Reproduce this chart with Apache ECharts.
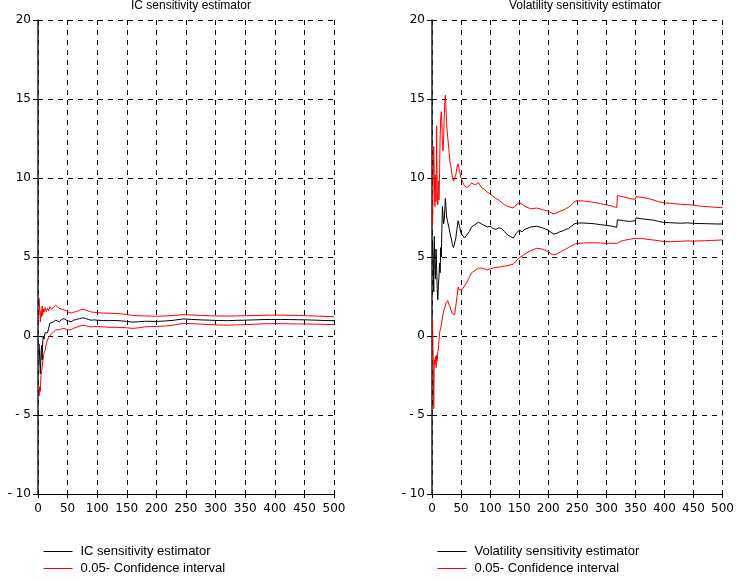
<!DOCTYPE html>
<html>
<head>
<meta charset="utf-8">
<script src="https://cdn.jsdelivr.net/npm/echarts@6/dist/echarts.min.js"></script>
<style>
html,body{margin:0;padding:0;background:#fff;}
#c{width:737px;height:581px;}
</style>
</head>
<body>
<div id="c"></div>
<script>
// ---- Left panel: IC sensitivity estimator ----
var xIC = [2,3,4,5,6,7,8,9,10,12,14,16,18,20,23,26,30,33,36,40,44,48,52,56,60,65,70,75,80,85,90,95,100,110,120,130,140,150,160,170,180,190,200,215,230,245,260,275,290,305,320,335,350,365,380,395,410,425,440,455,470,485,500];
var icEst = [-0.5,-1.6,-2.4,-1.2,-0.6,-1.5,-0.3,0.0,-0.2,0.2,0.3,0.2,0.5,0.8,0.7,0.9,1.0,0.95,0.9,1.05,1.1,1.0,0.95,0.9,1.0,1.05,1.1,1.15,1.12,1.05,1.0,1.02,1.0,0.98,0.97,0.98,0.96,0.92,0.88,0.9,0.93,0.93,0.92,0.95,1.0,1.08,1.05,1.02,1.0,0.98,0.97,0.99,1.0,1.02,1.04,1.05,1.05,1.04,1.03,1.02,1.0,0.98,0.97];
var icUpper = [2.4,1.5,0.9,1.6,1.2,1.9,1.3,1.7,1.5,1.8,1.55,1.75,1.6,1.85,1.7,1.8,1.95,1.85,1.75,1.7,1.65,1.6,1.5,1.45,1.5,1.55,1.62,1.7,1.65,1.58,1.52,1.5,1.48,1.45,1.44,1.43,1.4,1.36,1.3,1.28,1.27,1.26,1.25,1.27,1.3,1.35,1.33,1.3,1.28,1.27,1.26,1.27,1.28,1.3,1.31,1.32,1.32,1.31,1.3,1.28,1.26,1.24,1.22];
var icLower = [-3.8,-3.2,-3.5,-2.5,-2.2,-2.0,-1.6,-1.4,-1.1,-0.9,-0.5,-0.25,-0.1,0.0,0.15,0.25,0.38,0.35,0.4,0.45,0.48,0.42,0.38,0.4,0.48,0.55,0.62,0.68,0.66,0.6,0.58,0.6,0.6,0.58,0.55,0.55,0.54,0.52,0.48,0.52,0.58,0.6,0.6,0.63,0.7,0.8,0.78,0.75,0.72,0.7,0.69,0.7,0.72,0.74,0.77,0.78,0.78,0.77,0.76,0.76,0.75,0.73,0.72];

// ---- Right panel: Volatility sensitivity estimator ----
var xVol = [1,2,3,4,5,6,7,8,9,10,11,12,13,14,15,16,17,18,19,20,21,22,23,24,25,27,29,31,33,35,37,39,41,43,45,47,50,53,56,60,64,68,72,76,80,85,90,95,100,105,110,115,120,125,130,135,140,145,150,155,160,170,180,190,200,205,210,215,220,225,230,235,240,245,250,260,270,280,290,300,310,318,319,325,330,340,350,351,360,370,380,390,400,410,420,430,440,450,460,470,480,490,500];
var volEst = [6.0,5.0,2.8,6.3,4.5,3.6,5.5,4.2,3.0,2.3,3.2,3.8,4.6,4.0,5.6,5.0,6.8,8.2,7.6,7.1,7.3,8.0,8.7,8.2,7.6,7.2,6.9,6.5,6.2,5.8,5.6,5.7,6.2,6.8,7.3,7.0,6.5,6.4,6.2,6.4,6.6,6.9,7.0,7.1,7.2,7.1,7.0,6.9,6.95,6.8,6.75,6.85,6.8,6.6,6.4,6.3,6.2,6.5,6.7,6.6,6.75,6.9,6.95,6.85,6.7,6.55,6.45,6.5,6.6,6.65,6.75,6.8,6.95,7.1,7.15,7.15,7.13,7.1,7.05,7.0,6.95,6.88,7.35,7.33,7.3,7.25,7.3,7.48,7.42,7.38,7.34,7.25,7.18,7.17,7.15,7.14,7.16,7.13,7.12,7.11,7.1,7.09,7.09];
var volUpper = [7.0,9.5,12.0,10.0,8.2,10.2,8.5,13.3,9.0,8.3,9.8,8.6,10.3,12.6,13.8,14.2,13.5,12.0,11.7,12.5,13.8,14.8,15.25,14.5,13.5,12.6,11.8,11.0,10.6,10.0,9.8,9.7,10.2,10.7,10.9,10.5,10.0,9.7,9.5,9.4,9.5,9.7,9.6,9.6,9.7,9.4,9.3,9.1,9.0,8.85,8.7,8.6,8.45,8.3,8.2,8.15,8.1,8.3,8.45,8.35,8.2,8.05,8.1,8.0,7.9,7.8,7.72,7.8,7.9,7.95,8.05,8.15,8.3,8.5,8.55,8.55,8.5,8.45,8.38,8.3,8.22,8.12,8.88,8.85,8.8,8.7,8.65,8.82,8.78,8.72,8.62,8.5,8.42,8.4,8.36,8.33,8.32,8.28,8.22,8.2,8.17,8.14,8.12];
var volLower = [1.0,-1.5,-4.6,-1.5,-1.8,-1.3,-2.0,-1.2,-1.6,-1.0,-0.8,-0.7,0.2,0.1,0.5,0.7,0.8,1.2,1.4,1.5,1.7,1.6,1.9,2.1,2.05,2.25,2.0,1.85,1.6,1.4,1.3,1.35,1.9,2.5,3.1,2.9,2.9,3.0,3.1,3.4,3.7,4.0,4.1,4.2,4.3,4.3,4.25,4.18,4.25,4.3,4.35,4.35,4.4,4.42,4.45,4.5,4.55,4.75,4.95,5.05,5.2,5.4,5.55,5.5,5.35,5.2,5.13,5.2,5.3,5.4,5.5,5.6,5.7,5.8,5.86,5.88,5.9,5.9,5.88,5.87,5.87,5.85,5.95,6.0,6.05,6.12,6.18,6.2,6.18,6.12,6.08,6.03,5.98,5.97,5.98,6.0,6.02,6.0,6.02,6.03,6.05,6.06,6.08];

// ---- Axes ----
var xTicks = [0,50,100,150,200,250,300,350,400,450,500];
var yTicks = [-10,-5,0,5,10,15,20];

var titles = ['IC sensitivity estimator', 'Volatility sensitivity estimator'];
var estNames = ['IC sensitivity estimator', 'Volatility sensitivity estimator'];
var ciName = '0.05- Confidence interval';

function pairs(xs, ys){ var out=[]; for (var i=0;i<xs.length;i++) out.push([xs[i], ys[i]]); return out; }

var FONT = 'Liberation Sans';
function xAxisCfg(idx){
  return {
    gridIndex: idx, type: 'value', min: xTicks[0], max: xTicks[xTicks.length-1], interval: 50,
    axisLine: {show: true, onZero: false, lineStyle: {color: '#000', width: 1}},
    axisTick: {show: true, inside: false, length: 4, lineStyle: {color: '#000'}},
    axisLabel: {color: '#000', fontFamily: 'DejaVu Sans', fontSize: 12, margin: 9},
    splitLine: {show: true, lineStyle: {color: '#000', type: [5,5], width: 1}}
  };
}
function yAxisCfg(idx){
  return {
    gridIndex: idx, type: 'value', min: yTicks[0], max: yTicks[yTicks.length-1], interval: 5,
    axisLine: {show: true, onZero: false, lineStyle: {color: '#222', width: 1.5}},
    axisTick: {show: true, inside: false, length: 5, lineStyle: {color: '#000'}},
    axisLabel: {color: '#000', fontFamily: 'DejaVu Sans', fontSize: 12, margin: 7,
      formatter: function(v){ return v < 0 ? '- ' + Math.abs(v) : String(v); }},
    splitLine: {show: true, lineStyle: {color: '#000', type: [5,5], width: 1}}
  };
}
function lineSeries(name, idx, xs, ys, color){
  return {
    name: name, type: 'line', xAxisIndex: idx, yAxisIndex: idx,
    data: pairs(xs, ys), showSymbol: false, symbol: 'none',
    lineStyle: {color: color, width: 1}, itemStyle: {color: color},
    animation: false, silent: true
  };
}
function legendCfg(left, names){
  return {orient: 'vertical', left: left, top: 545, padding: 0,
    itemWidth: 29, itemHeight: 14, itemGap: 4,
    data: names, selectedMode: false,
    itemStyle: {opacity: 0},
    lineStyle: {width: 1},
    textStyle: {fontFamily: FONT, fontSize: 13, color: '#000', padding: [0,0,0,3]}};
}

var chart = echarts.init(document.getElementById('c'), null, {renderer: 'canvas'});
chart.setOption({
  backgroundColor: '#fff',
  animation: false,
  title: [
    {text: titles[0], left: 186, top: -5, textAlign: 'center',
     textStyle: {fontFamily: FONT, fontSize: 12, fontWeight: 'normal', color: '#000'}},
    {text: titles[1], left: 580, top: -5, textAlign: 'center',
     textStyle: {fontFamily: FONT, fontSize: 12, fontWeight: 'normal', color: '#000'}}
  ],
  grid: [
    {left: 38, right: 403, top: 20, bottom: 87},
    {left: 432, right: 10, top: 20, bottom: 87}
  ],
  xAxis: [xAxisCfg(0), xAxisCfg(1)],
  yAxis: [yAxisCfg(0), yAxisCfg(1)],
  legend: [legendCfg(43, [estNames[0], ciName]), legendCfg(437, [estNames[1], ciName])],
  series: [
    lineSeries(ciName, 0, xIC, icUpper, '#ff0000'),
    lineSeries(ciName, 0, xIC, icLower, '#ff0000'),
    lineSeries(estNames[0], 0, xIC, icEst, '#000000'),
    lineSeries(ciName, 1, xVol, volUpper, '#ff0000'),
    lineSeries(ciName, 1, xVol, volLower, '#ff0000'),
    lineSeries(estNames[1], 1, xVol, volEst, '#000000')
  ]
});
</script>
</body>
</html>
